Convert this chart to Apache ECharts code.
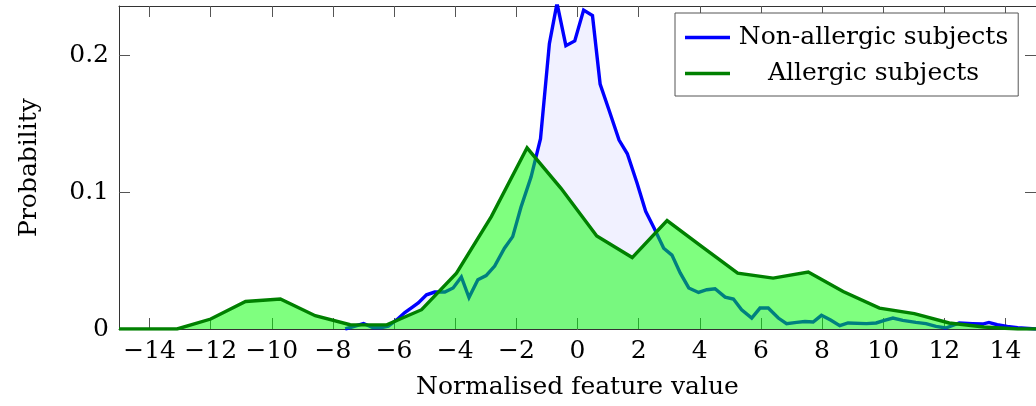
<!DOCTYPE html>
<html>
<head>
<meta charset="utf-8">
<script src="https://cdn.jsdelivr.net/npm/echarts@6/dist/echarts.min.js"></script>
<style>
html,body{margin:0;padding:0;background:#fff;}
#chart{width:1036px;height:406px;}
</style>
</head>
<body>
<div id="chart"></div>
<script>
// Non-allergic subjects: x values and probabilities
var nonAllergicX = [-7.6, -7.0, -6.7, -6.4, -6.19, -5.9, -5.65, -5.4, -5.21, -4.94, -4.67, -4.34, -4.07, -3.8, -3.55, -3.26, -2.99, -2.71, -2.39, -2.12, -1.85, -1.52, -1.21, -0.92, -0.67, -0.38, -0.09, 0.2, 0.49, 0.74, 1.03, 1.36, 1.63, 1.95, 2.23, 2.5, 2.82, 3.09, 3.36, 3.64, 3.96, 4.23, 4.5, 4.83, 5.1, 5.37, 5.7, 5.97, 6.24, 6.57, 6.84, 7.17, 7.44, 7.71, 7.98, 8.28, 8.58, 8.85, 9.45, 9.77, 10.04, 10.32, 10.64, 11.07, 11.4, 11.73, 12.05, 12.49, 12.92, 13.25, 13.46, 13.73, 14.06, 14.4, 15];
var nonAllergicY = [0, 0.004, 0.001, 0.001, 0.002, 0.007, 0.012, 0.016, 0.019, 0.025, 0.027, 0.027, 0.030, 0.038, 0.023, 0.036, 0.039, 0.046, 0.059, 0.0675, 0.089, 0.111, 0.139, 0.2085, 0.238, 0.207, 0.2105, 0.233, 0.229, 0.179, 0.160, 0.138, 0.128, 0.1065, 0.086, 0.074, 0.059, 0.054, 0.041, 0.030, 0.0267, 0.0287, 0.0294, 0.0233, 0.0219, 0.0141, 0.008, 0.0153, 0.0153, 0.008, 0.0039, 0.0048, 0.0055, 0.0051, 0.0100, 0.0065, 0.0024, 0.0044, 0.0039, 0.0044, 0.0063, 0.008, 0.0063, 0.0048, 0.0039, 0.0019, 0.0007, 0.0044, 0.0039, 0.0036, 0.0048, 0.0031, 0.0019, 0.001, 0];

// Allergic subjects: x values and probabilities
var allergicX = [-15, -13.1, -12.0, -10.86, -9.72, -8.58, -7.44, -6.24, -5.1, -3.96, -2.82, -1.65, -0.54, 0.63, 1.79, 2.93, 4.08, 5.24, 6.4, 7.55, 8.69, 9.88, 11.02, 12.16, 13.3, 14.4, 15];
var allergicY = [0, 0, 0.0073, 0.0201, 0.0219, 0.0097, 0.0031, 0.003, 0.0141, 0.0408, 0.0821, 0.1324, 0.1028, 0.068, 0.0522, 0.0792, 0.060, 0.0408, 0.0372, 0.0416, 0.0274, 0.0153, 0.0112, 0.0044, 0.0015, 0, 0];

var seriesNames = ['Non-allergic subjects', 'Allergic subjects'];
var xTicks = [-14, -12, -10, -8, -6, -4, -2, 0, 2, 4, 6, 8, 10, 12, 14];
var yTicks = [0, 0.1, 0.2];
var xTitle = 'Normalised feature value';
var yTitle = 'Probability';

function pairs(xs, ys) { return xs.map(function (x, i) { return [x, ys[i]]; }); }

var FONT = 'DejaVu Serif';
var FS = 25;
var frame = { color: '#333', width: 1 };
var tick = { color: '#555', width: 1 };

var chart = echarts.init(document.getElementById('chart'), null, { renderer: 'canvas' });
chart.setOption({
  animation: false,
  backgroundColor: '#fff',
  grid: { left: 119, top: 6, right: -5, bottom: 77, containLabel: false },
  legend: {
    orient: 'vertical',
    left: 675, top: 13,
    padding: [12, 10, 10, 10],
    itemGap: 11,
    itemWidth: 45, itemHeight: 3.5,
    icon: 'rect',
    backgroundColor: '#fff',
    borderColor: '#555', borderWidth: 1, borderRadius: 0,
    data: [
      { name: seriesNames[0], itemStyle: { color: '#0000ff' } },
      { name: seriesNames[1], itemStyle: { color: '#008000' } }
    ],
    formatter: function (n) { return '{t|' + n + '}'; },
    textStyle: {
      rich: { t: { width: 277, align: 'center', fontFamily: FONT, fontSize: FS, color: '#000' } }
    }
  },
  xAxis: [
    {
      type: 'value', min: -15, max: 15, position: 'bottom',
      axisLine: { show: true, onZero: false, lineStyle: frame },
      axisTick: { show: true, inside: true, length: 11, lineStyle: tick, customValues: xTicks },
      axisLabel: {
        customValues: xTicks, margin: 10, color: '#000', fontFamily: FONT, fontSize: FS,
        formatter: function (v) { return String(v).replace('-', '\u2212'); }
      },
      splitLine: { show: false },
      name: xTitle, nameLocation: 'middle', nameGap: 46,
      nameTextStyle: { fontFamily: FONT, fontSize: FS, color: '#000' }
    },
    {
      type: 'value', min: -15, max: 15, position: 'top',
      axisLine: { show: true, onZero: false, lineStyle: frame },
      axisTick: { show: true, inside: true, length: 11, lineStyle: tick, customValues: xTicks },
      axisLabel: { show: false },
      splitLine: { show: false }
    }
  ],
  yAxis: [
    {
      type: 'value', min: 0, max: 0.236, position: 'left',
      axisLine: { show: true, onZero: false, lineStyle: frame },
      axisTick: { show: true, inside: true, length: 11, lineStyle: tick, customValues: yTicks },
      axisLabel: { customValues: yTicks, margin: 10, color: '#000', fontFamily: FONT, fontSize: FS },
      splitLine: { show: false },
      name: yTitle, nameLocation: 'middle', nameGap: 77, nameRotate: 90,
      nameTextStyle: { fontFamily: FONT, fontSize: FS, color: '#000' }
    },
    {
      type: 'value', min: 0, max: 0.236, position: 'right',
      axisLine: { show: true, onZero: false, lineStyle: frame },
      axisTick: { show: true, inside: true, length: 11, lineStyle: tick, customValues: yTicks },
      axisLabel: { show: false },
      splitLine: { show: false }
    }
  ],
  series: [
    {
      name: seriesNames[0], type: 'line', xAxisIndex: 0, yAxisIndex: 0,
      data: pairs(nonAllergicX, nonAllergicY),
      symbol: 'none', smooth: false,
      lineStyle: { color: '#0000ff', width: 3.4, join: 'miter' },
      itemStyle: { color: '#0000ff' },
      areaStyle: { color: 'rgba(0,0,255,0.055)', opacity: 1, origin: 'start' },
      z: 2
    },
    {
      name: seriesNames[1], type: 'line', xAxisIndex: 0, yAxisIndex: 0,
      data: pairs(allergicX, allergicY),
      symbol: 'none', smooth: false,
      lineStyle: { color: '#008000', width: 3.4, join: 'miter' },
      itemStyle: { color: '#008000' },
      areaStyle: { color: 'rgba(0,255,0,0.5)', opacity: 1, origin: 'start' },
      z: 3
    }
  ]
});
</script>
</body>
</html>
